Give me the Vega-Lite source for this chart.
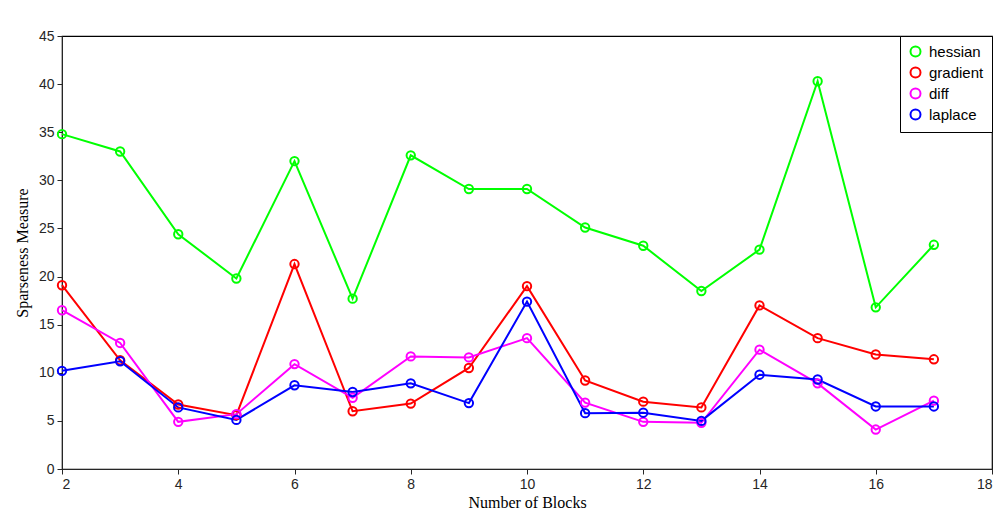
{
  "$schema": "https://vega.github.io/schema/vega-lite/v6.json",
  "width": 930,
  "height": 433,
  "autosize": {"type": "none"},
  "padding": {"left": 62, "top": 36, "right": 10, "bottom": 49},
  "background": "white",
  "config": {
    "view": {"stroke": "#000000", "strokeWidth": 1.2},
    "axis": {"grid": false, "domainColor": "#262626", "tickColor": "#262626", "labelFont": "Liberation Sans", "labelFontSize": 14, "labelColor": "#262626", "titleFont": "Liberation Serif", "titleFontSize": 16, "titleFontWeight": "normal", "titleColor": "#000000", "tickSize": 5, "labelPadding": 3}
  },
  "data": {"values": [
    {"x": 2, "series": "hessian", "value": 34.8}, {"x": 3, "series": "hessian", "value": 33.0}, {"x": 4, "series": "hessian", "value": 24.4}, {"x": 5, "series": "hessian", "value": 19.8}, {"x": 6, "series": "hessian", "value": 32.0}, {"x": 7, "series": "hessian", "value": 17.7}, {"x": 8, "series": "hessian", "value": 32.6}, {"x": 9, "series": "hessian", "value": 29.1}, {"x": 10, "series": "hessian", "value": 29.1}, {"x": 11, "series": "hessian", "value": 25.1}, {"x": 12, "series": "hessian", "value": 23.2}, {"x": 13, "series": "hessian", "value": 18.5}, {"x": 14, "series": "hessian", "value": 22.8}, {"x": 15, "series": "hessian", "value": 40.3}, {"x": 16, "series": "hessian", "value": 16.8}, {"x": 17, "series": "hessian", "value": 23.3},
    {"x": 2, "series": "gradient", "value": 19.1}, {"x": 3, "series": "gradient", "value": 11.3}, {"x": 4, "series": "gradient", "value": 6.7}, {"x": 5, "series": "gradient", "value": 5.6}, {"x": 6, "series": "gradient", "value": 21.3}, {"x": 7, "series": "gradient", "value": 6.0}, {"x": 8, "series": "gradient", "value": 6.8}, {"x": 9, "series": "gradient", "value": 10.5}, {"x": 10, "series": "gradient", "value": 19.0}, {"x": 11, "series": "gradient", "value": 9.2}, {"x": 12, "series": "gradient", "value": 7.0}, {"x": 13, "series": "gradient", "value": 6.4}, {"x": 14, "series": "gradient", "value": 17.0}, {"x": 15, "series": "gradient", "value": 13.6}, {"x": 16, "series": "gradient", "value": 11.9}, {"x": 17, "series": "gradient", "value": 11.4},
    {"x": 2, "series": "diff", "value": 16.5}, {"x": 3, "series": "diff", "value": 13.1}, {"x": 4, "series": "diff", "value": 4.9}, {"x": 5, "series": "diff", "value": 5.7}, {"x": 6, "series": "diff", "value": 10.9}, {"x": 7, "series": "diff", "value": 7.4}, {"x": 8, "series": "diff", "value": 11.7}, {"x": 9, "series": "diff", "value": 11.6}, {"x": 10, "series": "diff", "value": 13.6}, {"x": 11, "series": "diff", "value": 6.9}, {"x": 12, "series": "diff", "value": 4.9}, {"x": 13, "series": "diff", "value": 4.8}, {"x": 14, "series": "diff", "value": 12.4}, {"x": 15, "series": "diff", "value": 8.9}, {"x": 16, "series": "diff", "value": 4.1}, {"x": 17, "series": "diff", "value": 7.1},
    {"x": 2, "series": "laplace", "value": 10.2}, {"x": 3, "series": "laplace", "value": 11.2}, {"x": 4, "series": "laplace", "value": 6.4}, {"x": 5, "series": "laplace", "value": 5.1}, {"x": 6, "series": "laplace", "value": 8.7}, {"x": 7, "series": "laplace", "value": 8.0}, {"x": 8, "series": "laplace", "value": 8.9}, {"x": 9, "series": "laplace", "value": 6.85}, {"x": 10, "series": "laplace", "value": 17.4}, {"x": 11, "series": "laplace", "value": 5.8}, {"x": 12, "series": "laplace", "value": 5.85}, {"x": 13, "series": "laplace", "value": 5.0}, {"x": 14, "series": "laplace", "value": 9.8}, {"x": 15, "series": "laplace", "value": 9.3}, {"x": 16, "series": "laplace", "value": 6.5}, {"x": 17, "series": "laplace", "value": 6.5}
  ]},
  "mark": {"type": "line", "strokeWidth": 2, "point": {"filled": false, "size": 70, "strokeWidth": 2}},
  "encoding": {
    "x": {"field": "x", "type": "quantitative", "scale": {"domain": [2, 18], "nice": false, "zero": false}, "axis": {"title": "Number of Blocks", "tickCount": 8, "titlePadding": 3}},
    "y": {"field": "value", "type": "quantitative", "scale": {"domain": [0, 45], "nice": false}, "axis": {"title": "Sparseness Measure", "tickCount": 9, "titlePadding": 8}},
    "color": {"field": "series", "type": "nominal", "sort": ["hessian", "gradient", "diff", "laplace"], "scale": {"domain": ["hessian", "gradient", "diff", "laplace"], "range": ["#00ff00", "#ff0000", "#ff00ff", "#0000ff"]}, "legend": {
      "title": null, "orient": "top-right", "offset": 0, "strokeColor": "#000000", "fillColor": "#ffffff", "padding": 8,
      "labelFont": "Liberation Sans", "labelFontSize": 15, "labelColor": "#000000", "labelOffset": 6, "symbolSize": 100, "symbolStrokeWidth": 2
    }}
  }
}
